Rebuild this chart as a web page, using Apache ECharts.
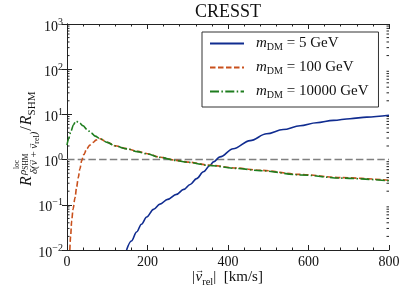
<!DOCTYPE html>
<html>
<head>
<meta charset="utf-8">
<script src="https://cdn.jsdelivr.net/npm/echarts@6/dist/echarts.min.js"></script>
<style>html,body{margin:0;padding:0;background:#fff}#c{width:407px;height:291px}</style>
</head>
<body>
<div id="c"></div>
<script>
// ---- data ----
const titleText = 'CRESST';
const seriesNames = ['5 GeV', '100 GeV', '10000 GeV'];
const blueV = [148,160,173,185,198,215,231,250,272,290,306,322,339,355,364,380,413,455,496,537,579,620,662,703,745,800];
const blueR = [0.01,0.0158,0.0251,0.0372,0.0537,0.0794,0.1035,0.132,0.17,0.219,0.282,0.38,0.537,0.741,0.891,1.148,1.738,2.63,3.72,4.62,5.62,6.53,7.36,8.04,8.71,9.55];
const orangeV = [7,9,11.6,15,20,24,28,32,36.5,42,49,57,65,72,78,82,100,120,148,175,200,231,272,300,355,420,480,579,680,800];
const orangeR = [0.01,0.02,0.044,0.08,0.145,0.25,0.4,0.62,0.95,1.3,1.73,2.1,2.4,2.7,2.85,2.9,2.42,2.02,1.75,1.52,1.35,1.13,0.96,0.88,0.75,0.65,0.58,0.47,0.40,0.35];
const greenV = [0,4,10,16,22,30,40,50,60,70,82,100,120,148,175,200,231,272,300,355,420,480,579,680,800];
const greenR = [2.1,2.9,4.3,5.9,7.1,6.6,5.6,4.6,3.9,3.3,2.9,2.4,2.0,1.73,1.5,1.33,1.12,0.95,0.87,0.74,0.64,0.57,0.46,0.39,0.34];
const refV = [0, 800];
const refR = [1, 1];
const yDecades = [0.01, 0.1, 1, 10, 100, 1000];

const zip = (a, b) => a.map((v, i) => [v, b[i]]);
const FONT = 'Liberation Serif';
const AX = '#222';
const TXT = '#111';

const chart = echarts.init(document.getElementById('c'), null, {renderer: 'canvas'});
const G = {left: 67, right: 18, top: 24, bottom: 41};

function legendLabel(name) {
  return '{i|m}{s|DM}{n| = ' + name + '}';
}

const option = {
  animation: false,
  backgroundColor: '#fff',
  title: {
    text: titleText, left: 228, top: 3, textAlign: 'center', padding: 0,
    textStyle: {fontFamily: FONT, fontSize: 18, fontWeight: 'normal', color: TXT}
  },
  legend: {
    data: seriesNames, orient: 'vertical', left: 202, top: 32,
    padding: [4, 10, 7, 7], itemGap: 8, itemWidth: 34, itemHeight: 14,
    backgroundColor: '#fff', borderColor: '#333', borderWidth: 1, borderRadius: 0,
    itemStyle: {opacity: 0},
    formatter: legendLabel,
    textStyle: {
      fontFamily: FONT, color: TXT,
      rich: {
        i: {fontFamily: FONT, fontStyle: 'italic', fontSize: 15, lineHeight: 17, padding: [0, 0, 0, 7]},
        s: {fontFamily: FONT, fontSize: 10, lineHeight: 8, verticalAlign: 'bottom'},
        n: {fontFamily: FONT, fontSize: 15, lineHeight: 17}
      }
    }
  },
  grid: G,
  xAxis: [{
    type: 'value', min: 0, max: 800, interval: 200,
    axisLine: {lineStyle: {color: AX, width: 1}},
    axisTick: {inside: true, length: 5, lineStyle: {color: AX}},
    minorTick: {show: true, splitNumber: 5, length: 2.5, lineStyle: {color: AX}},
    splitLine: {show: false},
    axisLabel: {fontFamily: FONT, fontSize: 14, color: TXT, margin: 5}
  }, {
    type: 'value', min: 0, max: 800, interval: 200, position: 'top',
    axisLine: {lineStyle: {color: AX, width: 1}},
    axisTick: {inside: true, length: 5, lineStyle: {color: AX}},
    minorTick: {show: true, splitNumber: 5, length: 2.5, lineStyle: {color: AX}},
    splitLine: {show: false}, axisLabel: {show: false}
  }],
  yAxis: [{
    type: 'log', logBase: 10, min: 0.01, max: 1000,
    axisLine: {lineStyle: {color: AX, width: 1}},
    axisTick: {inside: true, length: 5, lineStyle: {color: AX}},
    splitLine: {show: false},
    axisLabel: {
      fontFamily: FONT, color: TXT, margin: 4, padding: [6, 0, 0, 0],
      formatter: v => {
        const e = Math.round(Math.log10(v));
        return '{b|10}{s|' + (e < 0 ? '\u2212' + (-e) : e) + '}';
      },
      rich: {
        b: {fontFamily: FONT, fontSize: 14, lineHeight: 20},
        s: {fontFamily: FONT, fontSize: 10, lineHeight: 6, verticalAlign: 'top'}
      }
    }
  }, {
    type: 'log', logBase: 10, min: 0.01, max: 1000, position: 'right',
    axisLine: {lineStyle: {color: AX, width: 1}},
    axisTick: {inside: true, length: 5, lineStyle: {color: AX}},
    splitLine: {show: false}, axisLabel: {show: false}
  }],
  series: [{
    name: 'ref', type: 'line', data: zip(refV, refR), showSymbol: false, symbol: 'none', z: 1,
    lineStyle: {color: '#808080', width: 1.5, type: [7.5, 3.2]}, silent: true
  }, {
    name: seriesNames[0], type: 'line', data: zip(blueV, blueR), symbol: 'none', smooth: 0.35, smoothMonotone: 'x', z: 3,
    color: '#102c90', lineStyle: {color: '#102c90', width: 1.6}
  }, {
    name: seriesNames[1], type: 'line', data: zip(orangeV, orangeR), symbol: 'none', smooth: 0.3, smoothMonotone: 'x', z: 3,
    color: '#c9501c', lineStyle: {color: '#c9501c', width: 1.6, type: [5.5, 2.5]}
  }, {
    name: seriesNames[2], type: 'line', data: zip(greenV, greenR), symbol: 'none', smooth: 0.3, smoothMonotone: 'x', z: 4,
    color: '#1e7d1e', lineStyle: {color: '#1e7d1e', width: 1.6, type: [9, 2.4, 1.5, 2.4]}
  }]
};
chart.setOption(option);

// ---- text layout helper (pieces laid out along a baseline, arrows placed over the previous piece) ----
const mctx = document.createElement('canvas').getContext('2d');
function fontStr(size, italic) { return (italic ? 'italic ' : '') + size + 'px "' + FONT + '"'; }
function measure(t, f) { mctx.font = f; return mctx.measureText(t).width; }
function layout(pieces, x0) {
  let x = x0, lastX = x0, lastW = 0, lastSize = 14, lastDy = 0;
  const out = [];
  pieces.forEach(p => {
    if (p.arrow) {
      const f = fontStr(p.size, false);
      const w = measure('\u2192', f);
      out.push({type: 'text', x: lastX + (lastW - w) / 2 + 1, y: lastDy - lastSize * (p.lift || 0.62),
        style: {text: '\u2192', font: f, fill: TXT, verticalAlign: 'middle'}});
      return;
    }
    if (p.at !== undefined) x = p.at;
    const f = fontStr(p.size, p.italic);
    const w = measure(p.t, f);
    out.push({type: 'text', x: x, y: p.dy - p.size * 0.3,
      style: {text: p.t, font: f, fill: TXT, verticalAlign: 'middle'}});
    lastX = x; lastW = w; lastSize = p.size; lastDy = p.dy;
    x += w + (p.gap || 0);
    p.end = x;
  });
  return out;
}

// minor log ticks (2..9 per decade) placed through the axis scale
const W = 407;
const xL = G.left, xR = W - G.right;
const minor = [];
for (let k = 0; k < yDecades.length - 1; k++) {
  for (let m = 2; m <= 9; m++) {
    const y = chart.convertToPixel({yAxisIndex: 0}, m * yDecades[k]);
    minor.push({type: 'line', shape: {x1: xL, y1: y, x2: xL + 2.5, y2: y}, style: {stroke: AX, lineWidth: 1}, silent: true});
    minor.push({type: 'line', shape: {x1: xR - 2.5, y1: y, x2: xR, y2: y}, style: {stroke: AX, lineWidth: 1}, silent: true});
  }
}

// x-axis title  |v_rel| [km/s]
const xTitlePieces = [
  {t: '|', size: 15, dy: 0, gap: 0.5},
  {t: 'v', size: 15, italic: true, dy: 0},
  {arrow: true, size: 9, lift: 0.74},
  {t: 'rel', size: 10.5, dy: 3},
  {t: '|', size: 15, dy: 0},
  {t: '  [km/s]', size: 15, dy: 0}
];
const xTitle = {type: 'group', x: 192, y: 282, silent: true, children: layout(xTitlePieces, 0)};

// y-axis title (rotated)
const supPieces = [
  {t: '\u03C1', size: 11, italic: true, dy: -6, at: 11},
  {t: 'SHM', size: 7.5, dy: -3.5}
];
const locPieces = [{t: 'loc', size: 7.5, dy: -12.5, at: 17}];
const subPieces = [
  {t: '\u03B4(', size: 11, italic: true, dy: 5, at: 12},
  {t: 'v', size: 11, italic: true, dy: 5},
  {arrow: true, size: 7},
  {t: ' + ', size: 11, dy: 5},
  {t: 'v', size: 11, italic: true, dy: 5},
  {arrow: true, size: 7},
  {t: 'rel', size: 8, dy: 7},
  {t: ')', size: 11, italic: true, dy: 5}
];
const mainR = [{t: 'R', size: 16, italic: true, dy: 0, at: 0}];
const yChildren = layout(mainR, 0).concat(layout(supPieces, 0), layout(locPieces, 0), layout(subPieces, 0));
const restX = Math.max(subPieces[subPieces.length - 1].end, supPieces[supPieces.length - 1].end) + 1;
const restPieces = [
  {t: '/', size: 16, dy: 0, at: restX, gap: 1},
  {t: 'R', size: 16, italic: true, dy: 0},
  {t: 'SHM', size: 11, dy: 3.5}
];
const yTitle = {type: 'group', x: 32, y: 186, rotation: Math.PI / 2, silent: true,
  children: yChildren.concat(layout(restPieces, 0))};

chart.setOption({graphic: minor.concat([xTitle, yTitle])});
</script>
</body>
</html>
